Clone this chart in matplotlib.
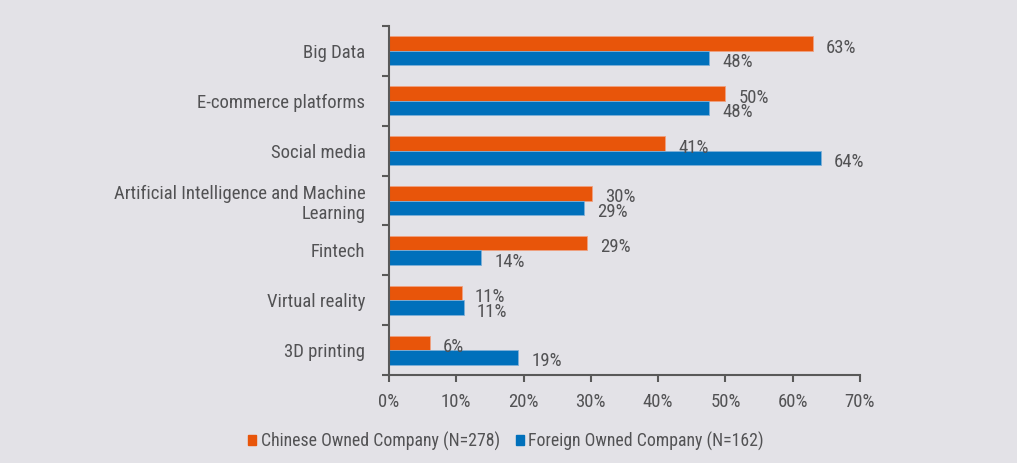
import matplotlib.pyplot as plt
from matplotlib.patches import Patch
import numpy as np

# Data
categories = ['Big Data', 'E-commerce platforms', 'Social media',
              'Artificial Intelligence and Machine\nLearning', 'Fintech',
              'Virtual reality', '3D printing']
chinese = [63.0, 50.0, 41.0, 30.2, 29.4, 10.8, 6.1]
foreign = [47.6, 47.6, 64.2, 29.0, 13.7, 11.1, 19.2]
series_names = ['Chinese Owned Company (N=278)', 'Foreign Owned Company (N=162)']
x_ticks = [0, 10, 20, 30, 40, 50, 60, 70]

plt.rcParams['font.family'] = ['Roboto Condensed', 'DejaVu Sans']
plt.rcParams['font.weight'] = 'normal'

bg = '#e3e2e7'
txt = '#525254'
orange = '#e8550a'
blue = '#0070bb'
fs = 13.5

fig = plt.figure(figsize=(10.17, 4.63), dpi=100, facecolor=bg)
ax = fig.add_axes([0.3825, 0.19, 0.4631, 0.7538], facecolor=bg)

n = len(categories)
y = np.arange(n)
h = 0.29
ax.barh(y - h / 2, chinese, height=h, color=orange, edgecolor='#f0a080', linewidth=0.6)
ax.barh(y + h / 2, foreign, height=h, color=blue, edgecolor='#7fb0d8', linewidth=0.6)

# value labels, just right of each bar end
for i in range(n):
    ax.annotate(f'{round(chinese[i])}%', (chinese[i], y[i] - h / 2), xytext=(9.5, -3),
                textcoords='offset points', va='center', ha='left', fontsize=fs, color=txt)
    ax.annotate(f'{round(foreign[i])}%', (foreign[i], y[i] + h / 2), xytext=(9.5, -3),
                textcoords='offset points', va='center', ha='left', fontsize=fs, color=txt)

ax.set_ylim(n - 0.5, -0.5)
ax.set_xlim(0, 70)
ax.set_yticks(y)
ax.set_yticklabels(categories, fontsize=fs, color=txt, ha='right')
ax.set_yticks(np.arange(-0.5, n, 1), minor=True)
ax.tick_params(axis='y', which='major', length=0, pad=17)
ax.tick_params(axis='y', which='minor', length=5, width=1.5, color='#595959')
ax.set_xticks(x_ticks)
ax.set_xticklabels([f'{t}%' for t in x_ticks], fontsize=fs, color=txt)
ax.tick_params(axis='x', length=5, width=1.5, color='#595959', pad=8)

for s in ['top', 'right']:
    ax.spines[s].set_visible(False)
for s in ['left', 'bottom']:
    ax.spines[s].set_color('#595959')
    ax.spines[s].set_linewidth(1.5)

handles = [Patch(color=orange), Patch(color=blue)]
fig.legend(handles, series_names, loc='center', bbox_to_anchor=(0.4975, 0.047), ncol=2,
           frameon=False, fontsize=12.8, labelcolor=txt, handlelength=0.45, handleheight=0.45,
           handletextpad=0.25, columnspacing=0.9)

fig.savefig('out.png', dpi=100, facecolor=bg)
